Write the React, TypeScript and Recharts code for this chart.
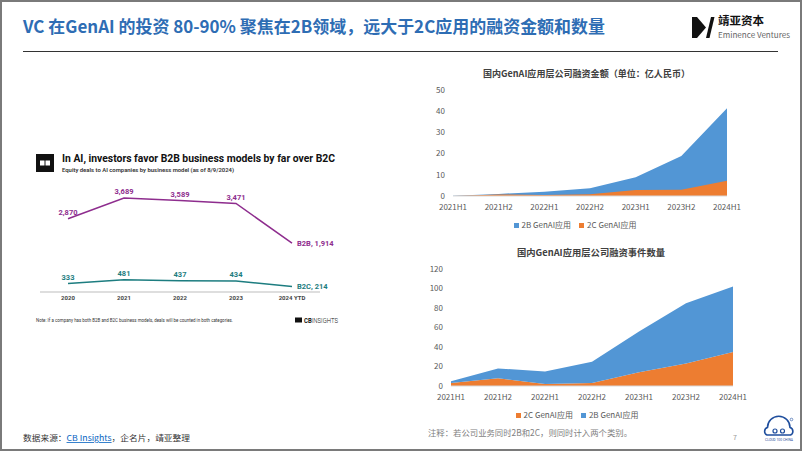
import { LineChart, Line, AreaChart, Area, XAxis, YAxis, Legend } from "recharts";

// CB Insights: equity deals to AI companies by business model
const cbYears = ["2020", "2021", "2022", "2023", "2024 YTD"];
const b2bDeals = [2870, 3689, 3589, 3471, 1914];
const b2cDeals = [333, 481, 437, 434, 214];

// 国内GenAI应用层公司融资（半年）
const halfYears = ["2021H1", "2021H2", "2022H1", "2022H2", "2023H1", "2023H2", "2024H1"];
const amount2B = [0.1, 1.0, 2.0, 3.6, 8.8, 18.9, 41.4];
const amount2C = [0, 0.7, 0.5, 0.8, 2.8, 3.0, 7.2];
const count2C = [3, 8, 2, 3, 14, 23, 35];
const count2B = [2, 10, 13, 22, 42, 62, 67];

const amountTicks = [0, 10, 20, 30, 40, 50];
const countTicks = [0, 20, 40, 60, 80, 100, 120];

const B2B_COLOR = "#8E2D8E";
const B2C_COLOR = "#1D7D80";
const BLUE = "#5296D5";
const ORANGE = "#ED7D31";
const CJK = '"Noto Sans CJK SC", "Noto Sans", sans-serif';

const cbData = cbYears.map((year, i) => ({ year, b2b: b2bDeals[i], b2c: b2cDeals[i] }));
const amountData = halfYears.map((h, i) => ({ h, a2b: amount2B[i], a2c: amount2C[i] }));
const countData = halfYears.map((h, i) => ({ h, c2c: count2C[i], c2b: count2B[i] }));

function makeLabel(color: string, name: string) {
  const last = cbYears.length - 1;
  return (props: any) => {
    const { x, y, value, index } = props;
    const txt = Number(value).toLocaleString("en-US");
    const common = { fill: color, fontSize: 7.5, fontWeight: 700, fontFamily: "Roboto, sans-serif" };
    if (index === last) {
      return (
        <text key={index} x={x + 5} y={y + 2.7} textAnchor="start" {...common}>
          {`${name}, ${txt}`}
        </text>
      );
    }
    return (
      <text key={index} x={x} y={y - 3.5} textAnchor="middle" {...common}>
        {txt}
      </text>
    );
  };
}

// legend keeps the series order (Excel style), not sorted by name
function legendContent(items: { name: string; color: string }[]) {
  return () => (
    <div style={{ textAlign: "center", fontSize: 8, lineHeight: "18px", color: "#595959", fontFamily: CJK }}>
      {items.map((it) => (
        <span key={it.name} style={{ margin: "0 4px" }}>
          <span style={{ display: "inline-block", width: 5, height: 5, background: it.color, marginRight: 3, verticalAlign: "middle" }} />
          {it.name}
        </span>
      ))}
    </div>
  );
}

const tickStyle = { fontSize: 8, fill: "#595959", fontFamily: CJK };

function Decor() {
  return (
    <svg width={802} height={451} style={{ position: "absolute", left: 0, top: 0 }}>
      <rect x={1} y={1} width={800} height={449} fill="#fff" stroke="#7a7a7a" strokeWidth={2} />
      <text x={23} y={33} fontSize={17} fontWeight={700} fill="#2E6DB4" fontFamily={CJK} textLength={582} lengthAdjust="spacingAndGlyphs">
        VC 在GenAI 的投资 80-90% 聚焦在2B领域，远大于2C应用的融资金额和数量
      </text>
      <line x1={23} y1={51.5} x2={778} y2={51.5} stroke="#333" strokeWidth={1} />

      {/* logo */}
      <polygon points="692,17 697,17 706,27.5 697,38 692,38" fill="#111" />
      <polygon points="706,38 711,17 714.5,17 709.5,38" fill="#111" />
      <text x={718} y={25} fontSize={11} fontWeight={700} fill="#111" fontFamily={CJK} textLength={46} lengthAdjust="spacingAndGlyphs">靖亚资本</text>
      <text x={718} y={38} fontSize={8} fill="#666" fontFamily={CJK} textLength={72} lengthAdjust="spacingAndGlyphs">Eminence Ventures</text>

      {/* CB Insights panel */}
      <rect x={36} y={154} width={18} height={18} fill="#111" />
      <rect x={40} y={160.5} width={4.5} height={5} fill="#fff" />
      <rect x={45.5} y={160.5} width={4.5} height={5} fill="#fff" />
      <text x={62} y={162} fontSize={11} fontWeight={700} fill="#111" fontFamily="Roboto, sans-serif" textLength={273} lengthAdjust="spacingAndGlyphs">
        In AI, investors favor B2B business models by far over B2C
      </text>
      <text x={62} y={172} fontSize={5.5} fontWeight={600} fill="#333" fontFamily="Roboto, sans-serif" textLength={172} lengthAdjust="spacingAndGlyphs">
        Equity deals to AI companies by business model (as of 8/9/2024)
      </text>
      <text x={36} y={322} fontSize={4.5} fill="#333" fontFamily="Roboto, sans-serif" textLength={197} lengthAdjust="spacingAndGlyphs">
        Note: If a company has both B2B and B2C business models, deals will be counted in both categories.
      </text>
      <rect x={295} y={317.5} width={7} height={5} fill="#111" />
      <text x={304} y={322.5} fontSize={6.5} fill="#111" fontFamily="Roboto, sans-serif" textLength={34} lengthAdjust="spacingAndGlyphs">
        <tspan fontWeight={700}>CB</tspan>
        <tspan fontWeight={300}>INSIGHTS</tspan>
      </text>

      {/* right panel titles */}
      <text x={483} y={76.5} fontSize={9} fontWeight={700} fill="#404040" fontFamily={CJK} textLength={207} lengthAdjust="spacingAndGlyphs">
        国内GenAI应用层公司融资金额（单位：亿人民币）
      </text>
      <text x={517} y={255.5} fontSize={9} fontWeight={700} fill="#404040" fontFamily={CJK} textLength={148} lengthAdjust="spacingAndGlyphs">
        国内GenAI应用层公司融资事件数量
      </text>

      {/* footer */}
      <text x={428} y={436} fontSize={8.5} fill="#7f7f7f" fontFamily={CJK} textLength={204} lengthAdjust="spacingAndGlyphs">
        注释：若公司业务同时2B和2C，则同时计入两个类别。
      </text>
      <text x={23} y={441} fontSize={8} fill="#333" fontFamily={CJK} textLength={167} lengthAdjust="spacingAndGlyphs">
        数据来源：<tspan fill="#0563C1" textDecoration="underline">CB Insights</tspan>，企名片，靖亚整理
      </text>
      <text x={733} y={440} fontSize={7} fill="#999" fontFamily={CJK}>7</text>

      {/* cloud logo */}
      <path d="M767,435 A4,4 0 0 1 767.5,427.5 A6.8,6.8 0 0 1 790,427.5 A4,4 0 0 1 790.5,435 Z" fill="#fff" stroke="#1F4E9D" strokeWidth={1.6} />
      <circle cx={775} cy={431} r={2} fill="none" stroke="#1F4E9D" strokeWidth={1.2} />
      <circle cx={782.5} cy={431} r={2} fill="none" stroke="#1F4E9D" strokeWidth={1.2} />
      <circle cx={791.5} cy={419.5} r={1.3} fill="none" stroke="#1F4E9D" strokeWidth={0.6} />
      <text x={765} y={441} fontSize={3} fill="#1F4E9D" fontFamily="Roboto, sans-serif" textLength={28} lengthAdjust="spacingAndGlyphs">CLOUD 100 CHINA</text>
    </svg>
  );
}

export default function App() {
  return (
    <div style={{ position: "absolute", left: 0, top: 0, width: 802, height: 451, background: "#fff", fontFamily: CJK, overflow: "hidden" }}>
      <Decor />

      <div style={{ position: "absolute", left: 0, top: 180 }}>
        <LineChart width={360} height={132} data={cbData} margin={{ top: 10, right: 40, bottom: 0, left: 40 }}>
          <XAxis
            dataKey="year"
            height={20}
            padding={{ left: 28, right: 28 }}
            axisLine={{ stroke: "#bdbdbd" }}
            tickLine={false}
            tickSize={4}
            tickMargin={0}
            tick={{ fontSize: 6, fontWeight: 700, fill: "#444", fontFamily: "Roboto, sans-serif" }}
          />
          <YAxis hide domain={[0, 4000]} />
          <Line dataKey="b2b" stroke={B2B_COLOR} strokeWidth={1.5} dot={false} isAnimationActive={false} label={makeLabel(B2B_COLOR, "B2B")} />
          <Line dataKey="b2c" stroke={B2C_COLOR} strokeWidth={1.5} dot={false} isAnimationActive={false} label={makeLabel(B2C_COLOR, "B2C")} />
        </LineChart>
      </div>

      <div style={{ position: "absolute", left: 400, top: 80 }}>
        <AreaChart width={360} height={154} data={amountData} margin={{ top: 10, right: 33, bottom: 0, left: 23 }}>
          <XAxis dataKey="h" height={20} axisLine={{ stroke: "#d9d9d9" }} tickLine={false} tickSize={6} tickMargin={2} tick={tickStyle} />
          <YAxis width={30} domain={[0, 50]} ticks={amountTicks} axisLine={false} tickLine={false} tickSize={6} tickMargin={2} tick={tickStyle} />
          <Area type="linear" dataKey="a2b" name="2B GenAI应用" fill={BLUE} fillOpacity={1} stroke="none" isAnimationActive={false} />
          <Area type="linear" dataKey="a2c" name="2C GenAI应用" fill={ORANGE} fillOpacity={1} stroke="none" isAnimationActive={false} />
          <Legend content={legendContent([{ name: "2B GenAI应用", color: BLUE }, { name: "2C GenAI应用", color: ORANGE }])} />
        </AreaChart>
      </div>

      <div style={{ position: "absolute", left: 400, top: 259 }}>
        <AreaChart width={360} height={165} data={countData} margin={{ top: 10, right: 27, bottom: 0, left: 21 }}>
          <XAxis dataKey="h" height={20} axisLine={{ stroke: "#d9d9d9" }} tickLine={false} tickSize={6} tickMargin={2} tick={tickStyle} />
          <YAxis width={30} domain={[0, 120]} ticks={countTicks} axisLine={false} tickLine={false} tickSize={6} tickMargin={2} tick={tickStyle} />
          <Area type="linear" dataKey="c2c" name="2C GenAI应用" stackId="n" fill={ORANGE} fillOpacity={1} stroke="none" isAnimationActive={false} />
          <Area type="linear" dataKey="c2b" name="2B GenAI应用" stackId="n" fill={BLUE} fillOpacity={1} stroke="none" isAnimationActive={false} />
          <Legend content={legendContent([{ name: "2C GenAI应用", color: ORANGE }, { name: "2B GenAI应用", color: BLUE }])} />
        </AreaChart>
      </div>
    </div>
  );
}
